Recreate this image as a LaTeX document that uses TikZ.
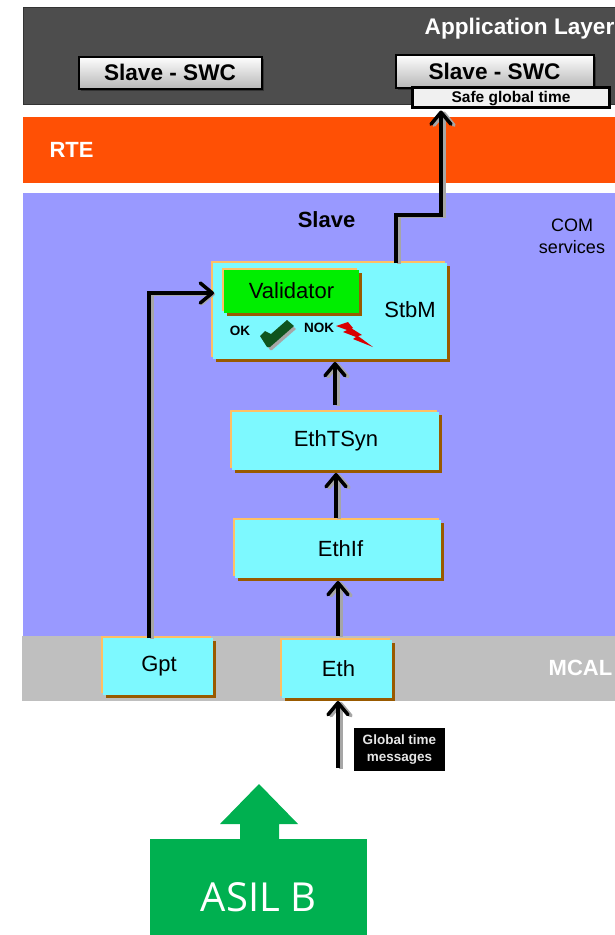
\documentclass[tikz,border=0pt]{standalone}
\usepackage{fontspec}
\setmainfont{Liberation Sans}
\newfontfamily\asilfont{Open Sans}
\usetikzlibrary{arrows.meta, positioning, shadows}
\definecolor{applayer}{RGB}{77,77,77}
\definecolor{rteorange}{RGB}{255,80,5}
\definecolor{comblue}{RGB}{153,153,255}
\definecolor{mcalgray}{RGB}{191,191,191}
\definecolor{modcyan}{RGB}{125,249,255}
\definecolor{modlight}{RGB}{255,192,100}
\definecolor{moddark}{RGB}{153,90,0}
\definecolor{valgreen}{RGB}{0,238,0}
\definecolor{asilgreen}{RGB}{0,176,80}
\definecolor{checkgreen}{RGB}{15,85,30}

\begin{document}
\begin{tikzpicture}[
    x=1pt, y=-1pt,
    node distance=48pt and 10pt,
    layer/.style={rectangle, inner sep=0pt, outer sep=0pt},
    layertext/.style={font=\fontsize{22}{24}\selectfont\bfseries, inner sep=0pt},
    swc/.style={rectangle, draw=black, line width=2pt, top color=white, bottom color=black!28, font=\fontsize{22.6}{24}\selectfont\bfseries, general shadow={shadow xshift=2pt, shadow yshift=-2pt, fill=black, opacity=0.35}},
    module/.style={rectangle, fill=modcyan, outer sep=0pt, inner sep=0pt, font=\fontsize{22}{24}\selectfont, general shadow={shadow xshift=3pt, shadow yshift=-3pt, fill=moddark}, general shadow={shadow xshift=-2pt, shadow yshift=2pt, fill=modlight}},
    flow/.style={-{Straight Barb[length=12pt, width=20pt, line width=3.5pt, round]}, line width=3.5pt, black},
    flowshadow/.style={-{Straight Barb[length=12pt, width=20pt, line width=3.5pt, round]}, line width=3.5pt, black!35, transform canvas={xshift=3pt, yshift=-1pt}},
    smalltext/.style={font=\fontsize{13.5}{15}\selectfont\bfseries, inner sep=0pt}
]
\useasboundingbox (0,0) rectangle (615,935);

% Layers
\node[layer, fill=applayer, draw=black!80, minimum width=592pt, minimum height=97pt] (app) at (319,55.5) {};
\node[layer, fill=rteorange, minimum width=592pt, minimum height=66pt] (rte) at (319,150) {};
\node[layer, fill=comblue, minimum width=592pt, minimum height=445pt] (com) at (319,415.5) {};
\node[layer, fill=mcalgray, minimum width=593pt, minimum height=65pt] (mcal) at (318.5,668) {};

% Layer labels
\node[layertext, font=\fontsize{22.6}{24}\selectfont\bfseries, white] (applabel) at (519.5,28.5) {Application Layer};
\node[layertext, white] (rtelabel) at (71.5,150) {RTE};
\node[layertext] (slavelabel) at (326.5,220) {Slave};
\node[layertext, white] (mcallabel) at (580.5,668) {MCAL};
\node[font=\fontsize{18}{22}\selectfont, align=center, inner sep=0pt] (comlabel) at (572,236) {COM\\services};

% Application components
\node[swc, minimum width=183pt, minimum height=32pt] (swcleft) at (170,72.5) {Slave - SWC};
\node[swc, minimum width=198pt, minimum height=33pt] (swcright) at (494.5,71) {Slave - SWC};
\node[rectangle, draw=black, line width=3pt, fill=black!6, minimum width=197pt, minimum height=20pt, inner sep=0pt, text depth=0pt, font=\fontsize{15.5}{17}\selectfont\bfseries] (safe) at (511,97) {Safe global time};

% BSW stack
\node[module, minimum width=234pt, minimum height=96pt] (stbm) at (330,311) {};
\node[font=\fontsize{22}{24}\selectfont, inner sep=0pt] (stbmlabel) at (410,310) {StbM};
\node[module, fill=valgreen, minimum width=135pt, minimum height=43pt] (validator) at (291.5,291) {Validator};
\node[module, minimum width=207pt, minimum height=58pt, below=53pt of stbm, xshift=5pt] (ethtsyn) {\hspace*{2pt}EthTSyn};
\node[module, minimum width=206pt, minimum height=58pt, below=50pt of ethtsyn, xshift=2.5pt] (ethif) {\hspace*{6pt}EthIf};
\node[module, minimum width=110pt, minimum height=58pt, below=62pt of ethif, xshift=-1pt] (eth) {\hspace*{4pt}Eth};
\node[module, minimum width=110pt, minimum height=57pt] (gpt) at (158,666.5) {\hspace*{2pt}Gpt};

% Validation result
\node[smalltext] (oklabel) at (240,331) {OK};
\node[smalltext] (noklabel) at (319,328) {NOK};
\fill[black!35] (263,339) -- (267,335) -- (274,336) -- (289,323) -- (296,329) -- (272,350) -- (270,350) -- cycle;
\fill[checkgreen] (260,336) -- (265,331) -- (271,334) -- (287,320) -- (294,326) -- (270,347) -- (267,347) -- cycle;
\fill[red!85!black] (336,326) -- (348,322) -- (353,328) -- (351,328) -- (362,335) -- (358,336) -- (373,347) -- (353,339) -- (356,337) -- (343,332) -- (347,330) -- cycle;

% Global time input
\node[rectangle, fill=black, text=white!90!black, minimum width=91pt, minimum height=43pt, inner sep=0pt, align=center, font=\fontsize{13.5}{17}\selectfont\bfseries] (msgs) at (399.5,749.5) {Global time\\messages};
\coordinate (msgin) at (338,768);
\coordinate (rise) at (396,215);
\coordinate (gptturn) at (149,293);

% Arrows
\draw[flowshadow] (msgin) -- ([yshift=-3pt]msgin |- eth.south);
\draw[flow] (msgin) -- ([yshift=-3pt]msgin |- eth.south);
\draw[flowshadow] ([yshift=4pt]eth.north -| 338,0) -- ([yshift=-3pt]338,0 |- ethif.south);
\draw[flow] ([yshift=4pt]eth.north -| 338,0) -- ([yshift=-3pt]338,0 |- ethif.south);
\draw[flowshadow] ([yshift=2pt]ethif.north -| 336,0) -- ([yshift=-3pt]336,0 |- ethtsyn.south);
\draw[flow] ([yshift=2pt]ethif.north -| 336,0) -- ([yshift=-3pt]336,0 |- ethtsyn.south);
\draw[flowshadow] ([yshift=7pt]ethtsyn.north -| 335,0) -- ([yshift=-3pt]335,0 |- stbm.south);
\draw[flow] ([yshift=7pt]ethtsyn.north -| 335,0) -- ([yshift=-3pt]335,0 |- stbm.south);
\draw[flowshadow] (gpt.north -| gptturn) -- (gptturn) -- ([xshift=-1pt]gptturn -| stbm.west);
\draw[flow] (gpt.north -| gptturn) -- (gptturn) -- ([xshift=1pt]gptturn -| stbm.west);
\draw[flowshadow] (stbm.north -| rise) -- (rise) -- (441,215) -- ([yshift=-2pt]441,0 |- safe.south);
\draw[flow] (stbm.north -| rise) -- (rise) -- (441,215) -- ([yshift=-2pt]441,0 |- safe.south);

% ASIL marker
\fill[asilgreen] (259,784) -- (298,824) -- (279,824) -- (279,842) -- (240,842) -- (240,824) -- (220,824) -- cycle;
\node[rectangle, fill=asilgreen, text=white, minimum width=217pt, minimum height=96pt, inner sep=0pt, text height=49pt, font=\asilfont\fontsize{40}{44}\selectfont] (asil) at (258.5,887) {ASIL B};

\end{tikzpicture}
\end{document}
